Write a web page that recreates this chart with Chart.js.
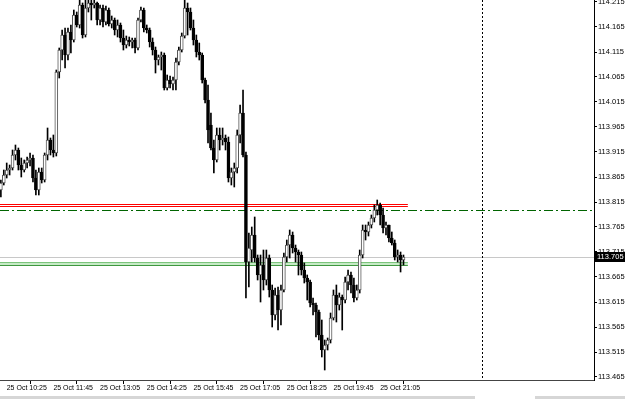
<!DOCTYPE html>
<html>
<head>
<meta charset="utf-8">
<script src="https://cdn.jsdelivr.net/npm/chart.js@4.4.1/dist/chart.umd.min.js"></script>
<style>
  html, body { margin: 0; padding: 0; background: #fff; overflow: hidden; }
  canvas { display: block; }
</style>
</head>
<body>
<canvas id="chart" width="625" height="399"></canvas>
<script>
// 5-minute candles, 25 Oct 10:15 .. 21:45 (bar index 0 = 10:15)
const openPrices = [
  113.839, 113.853, 113.869, 113.879, 113.883, 113.909, 113.919, 113.889, 113.879, 113.893,
  113.899, 113.903, 113.863, 113.839, 113.875, 113.859, 113.909, 113.939, 113.919, 113.913,
  114.075, 114.119, 114.149, 114.109, 114.155, 114.139, 114.189, 114.169, 114.209, 114.149,
  114.203, 114.213, 114.209, 114.213, 114.179, 114.203, 114.175, 114.199, 114.171, 114.179,
  114.159, 114.169, 114.143, 114.129, 114.139, 114.135, 114.139, 114.123, 114.179, 114.199,
  114.163, 114.159, 114.135, 114.119, 114.099, 114.105, 114.109, 114.043, 114.059, 114.051,
  114.059, 114.095, 114.119, 114.147, 114.203, 114.195, 114.163, 114.139, 114.115, 114.109,
  114.059, 114.019, 113.969, 113.923, 113.899, 113.949, 113.939, 113.943, 113.935, 113.863,
  113.875, 113.883, 113.949, 113.993, 113.909, 113.695, 113.719, 113.749, 113.703, 113.669,
  113.689, 113.659, 113.703, 113.639, 113.589, 113.629, 113.599, 113.639, 113.705, 113.729,
  113.749, 113.723, 113.715, 113.709, 113.679, 113.663, 113.655, 113.613, 113.609, 113.595,
  113.549, 113.519, 113.529, 113.539, 113.583, 113.629, 113.609, 113.625, 113.619, 113.655,
  113.669, 113.649, 113.623, 113.639, 113.709, 113.759, 113.755, 113.769, 113.783, 113.799,
  113.809, 113.789, 113.763, 113.769, 113.743, 113.733, 113.705, 113.709, 113.699
];
const highPrices = [
  113.859, 113.879, 113.893, 113.889, 113.919, 113.929, 113.923, 113.903, 113.899, 113.905,
  113.913, 113.909, 113.879, 113.883, 113.883, 113.913, 113.963, 113.943, 113.949, 114.079,
  114.123, 114.159, 114.163, 114.163, 114.169, 114.199, 114.195, 114.225, 114.213, 114.224,
  114.226, 114.222, 114.223, 114.215, 114.209, 114.209, 114.207, 114.203, 114.187, 114.183,
  114.179, 114.173, 114.159, 114.147, 114.145, 114.143, 114.143, 114.183, 114.205, 114.203,
  114.169, 114.163, 114.143, 114.125, 114.109, 114.115, 114.113, 114.069, 114.067, 114.065,
  114.103, 114.125, 114.153, 114.228, 114.213, 114.203, 114.179, 114.149, 114.133, 114.113,
  114.063, 114.049, 113.993, 113.939, 113.963, 113.963, 113.963, 113.949, 113.945, 113.883,
  113.893, 113.959, 114.009, 114.039, 113.915, 113.753, 113.765, 113.785, 113.709, 113.709,
  113.719, 113.719, 113.709, 113.649, 113.643, 113.645, 113.649, 113.713, 113.739, 113.759,
  113.755, 113.729, 113.719, 113.715, 113.693, 113.669, 113.659, 113.623, 113.613, 113.599,
  113.579, 113.539, 113.543, 113.593, 113.639, 113.649, 113.633, 113.629, 113.665, 113.679,
  113.675, 113.663, 113.649, 113.719, 113.769, 113.769, 113.775, 113.789, 113.809, 113.819,
  113.813, 113.803, 113.775, 113.769, 113.755, 113.739, 113.719, 113.715, 113.709
];
const lowPrices = [
  113.825, 113.849, 113.863, 113.869, 113.879, 113.899, 113.879, 113.865, 113.875, 113.883,
  113.887, 113.855, 113.829, 113.829, 113.853, 113.855, 113.899, 113.909, 113.905, 113.907,
  114.063, 114.099, 114.083, 114.099, 114.113, 114.135, 114.165, 114.163, 114.143, 114.145,
  114.195, 114.179, 114.203, 114.169, 114.169, 114.165, 114.169, 114.167, 114.163, 114.149,
  114.145, 114.135, 114.119, 114.123, 114.127, 114.123, 114.113, 114.119, 114.175, 114.155,
  114.153, 114.125, 114.109, 114.073, 114.089, 114.079, 114.039, 114.039, 114.043, 114.039,
  114.039, 114.089, 114.115, 114.143, 114.149, 114.159, 114.129, 114.105, 114.099, 114.053,
  114.013, 113.933, 113.919, 113.873, 113.895, 113.919, 113.929, 113.919, 113.855, 113.849,
  113.845, 113.873, 113.933, 113.905, 113.623, 113.645, 113.695, 113.695, 113.659, 113.615,
  113.639, 113.649, 113.625, 113.565, 113.579, 113.559, 113.569, 113.635, 113.695, 113.703,
  113.713, 113.695, 113.669, 113.669, 113.653, 113.619, 113.605, 113.589, 113.545, 113.539,
  113.505, 113.479, 113.519, 113.533, 113.579, 113.575, 113.599, 113.559, 113.613, 113.639,
  113.633, 113.615, 113.619, 113.633, 113.703, 113.739, 113.747, 113.763, 113.775, 113.789,
  113.769, 113.753, 113.749, 113.735, 113.729, 113.699, 113.695, 113.675, 113.689
];
const closePrices = [
  113.853, 113.869, 113.879, 113.883, 113.909, 113.919, 113.889, 113.879, 113.893, 113.899,
  113.903, 113.863, 113.839, 113.875, 113.859, 113.909, 113.939, 113.919, 113.913, 114.075,
  114.119, 114.149, 114.109, 114.155, 114.139, 114.189, 114.169, 114.209, 114.149, 114.203,
  114.213, 114.209, 114.213, 114.179, 114.203, 114.175, 114.199, 114.171, 114.179, 114.159,
  114.169, 114.143, 114.129, 114.139, 114.135, 114.139, 114.123, 114.179, 114.199, 114.163,
  114.159, 114.135, 114.119, 114.099, 114.105, 114.109, 114.043, 114.059, 114.051, 114.059,
  114.095, 114.119, 114.147, 114.203, 114.195, 114.163, 114.139, 114.115, 114.109, 114.059,
  114.019, 113.959, 113.923, 113.899, 113.949, 113.939, 113.943, 113.935, 113.863, 113.875,
  113.883, 113.949, 113.993, 113.909, 113.695, 113.723, 113.749, 113.703, 113.669, 113.689,
  113.659, 113.703, 113.639, 113.589, 113.629, 113.599, 113.639, 113.705, 113.729, 113.749,
  113.723, 113.715, 113.709, 113.679, 113.663, 113.655, 113.613, 113.609, 113.595, 113.549,
  113.519, 113.529, 113.539, 113.583, 113.629, 113.609, 113.625, 113.619, 113.655, 113.669,
  113.649, 113.623, 113.639, 113.709, 113.759, 113.755, 113.769, 113.783, 113.799, 113.809,
  113.789, 113.763, 113.769, 113.743, 113.733, 113.705, 113.709, 113.699, 113.705
];

// axis labels
const xTickIndex = [2, 18, 34, 50, 66, 82, 98, 114, 130];
const xTickLabels = ['25 Oct 10:25', '25 Oct 11:45', '25 Oct 13:05', '25 Oct 14:25', '25 Oct 15:45',
                     '25 Oct 17:05', '25 Oct 18:25', '25 Oct 19:45', '25 Oct 21:05'];
const yTickValues = [114.215, 114.165, 114.115, 114.065, 114.015, 113.965, 113.915, 113.865,
                     113.815, 113.765, 113.715, 113.665, 113.615, 113.565, 113.515, 113.465];

// drawn objects
const bidPrice = 113.705;
const redBox = [113.811, 113.807];
const greenBox = [113.695, 113.689];
const dashDotLevel = 113.798;
const boxEndIndex = 139.5;
const vLineIndex = 165;

const FONT = "'Liberation Sans', 'DejaVu Sans', sans-serif";

const isUp = closePrices.map((c, i) => c >= openPrices[i]);
const bodyData = openPrices.map((o, i) => ({ x: i, y: [o, closePrices[i]] }));
const wickData = lowPrices.map((l, i) => ({ x: i, y: [l, highPrices[i]] }));

const overlays = {
    id: 'overlays',
    beforeDatasetsDraw(chart) {
        const { ctx, chartArea: a, scales: { x, y } } = chart;
        const py = v => Math.round(y.getPixelForValue(v)) + 0.5;
        const hline = (yy, x1, x2) => { ctx.beginPath(); ctx.moveTo(x1, yy); ctx.lineTo(x2, yy); ctx.stroke(); };
        const boxRight = x.getPixelForValue(boxEndIndex);

        ctx.save();
        ctx.beginPath();
        ctx.rect(a.left, a.top, a.width, a.height);
        ctx.clip();
        ctx.lineWidth = 1;

        // bid line
        ctx.strokeStyle = '#c8c8c8';
        hline(py(bidPrice), a.left, a.right);

        // green zone
        const g1 = py(greenBox[0]), g2 = py(greenBox[1]);
        ctx.fillStyle = '#c6eac6';
        ctx.fillRect(a.left, g1, boxRight - a.left, g2 - g1);
        ctx.strokeStyle = '#7cc47c';
        hline(g1, a.left, boxRight);
        ctx.strokeStyle = '#3f973f';
        hline(g2, a.left, boxRight);

        // red zone
        ctx.strokeStyle = '#ff0000';
        hline(py(redBox[0]), a.left, boxRight);
        hline(py(redBox[1]), a.left, boxRight);

        // dash-dot level
        ctx.strokeStyle = '#006400';
        ctx.setLineDash([9, 3, 2, 3]);
        hline(py(dashDotLevel), a.left, a.right);

        // vertical dotted line
        const vx = Math.round(x.getPixelForValue(vLineIndex)) + 0.5;
        ctx.strokeStyle = '#000';
        ctx.setLineDash([2, 2]);
        ctx.beginPath();
        ctx.moveTo(vx, a.top);
        ctx.lineTo(vx, a.bottom);
        ctx.stroke();
        ctx.restore();
    },
    afterDraw(chart) {
        const { ctx, chartArea: a, scales: { y } } = chart;
        const by = Math.round(y.getPixelForValue(bidPrice));
        ctx.save();
        // current price tag
        ctx.fillStyle = '#000';
        ctx.fillRect(a.right, by - 5, chart.width - a.right, 10);
        ctx.fillStyle = '#fff';
        ctx.font = '7.5px ' + FONT;
        ctx.textBaseline = 'middle';
        ctx.fillText(bidPrice.toFixed(3), a.right + 3, by);
        // bottom tab strip
        ctx.fillStyle = '#d6d6d6';
        ctx.fillRect(0, 396, chart.width, 3);
        ctx.fillStyle = '#fff';
        ctx.fillRect(475, 396, 60, 3);
        ctx.restore();
    }
};

new Chart(document.getElementById('chart').getContext('2d'), {
    type: 'bar',
    data: {
        datasets: [{
            data: bodyData,
            backgroundColor: isUp.map(u => u ? '#ffffff' : '#000000'),
            borderColor: isUp.map(u => u ? '#555555' : '#000000'),
            borderWidth: 1,
            borderSkipped: false,
            barThickness: 3,
            grouped: false,
            order: 0,
            clip: 0
        }, {
            data: wickData,
            backgroundColor: '#000',
            borderWidth: 0,
            barThickness: 1,
            grouped: false,
            order: 1,
            clip: 0
        }]
    },
    options: {
        animation: false,
        responsive: false,
        devicePixelRatio: 1,
        layout: { padding: 0 },
        plugins: { legend: { display: false }, tooltip: { enabled: false } },
        scales: {
            x: {
                type: 'linear',
                min: -0.3,
                max: 203.3,
                offset: false,
                afterBuildTicks: s => { s.ticks = xTickIndex.map(v => ({ value: v })); },
                afterFit: s => { s.height = 19; s.paddingLeft = 0; s.paddingRight = 0; },
                grid: { drawOnChartArea: false, drawTicks: true, tickLength: 4, color: '#000' },
                border: { display: true, color: '#444' },
                ticks: {
                    autoSkip: false, maxRotation: 0, minRotation: 0, align: 'start', padding: 0,
                    color: '#000', font: { family: FONT, size: 7 },
                    callback: (v, i) => xTickLabels[i]
                }
            },
            y: {
                position: 'right',
                min: 113.459,
                max: 114.219,
                afterBuildTicks: s => { s.ticks = yTickValues.map(v => ({ value: v })); },
                afterFit: s => { s.width = 31; s.paddingTop = 0; s.paddingBottom = 0; },
                grid: { drawOnChartArea: false, drawTicks: true, tickLength: 3, color: '#000' },
                border: { display: true, color: '#000' },
                ticks: {
                    autoSkip: false, padding: 1, color: '#000',
                    font: { family: FONT, size: 7.5 },
                    callback: v => v.toFixed(3)
                }
            }
        }
    },
    plugins: [overlays]
});
</script>
</body>
</html>
